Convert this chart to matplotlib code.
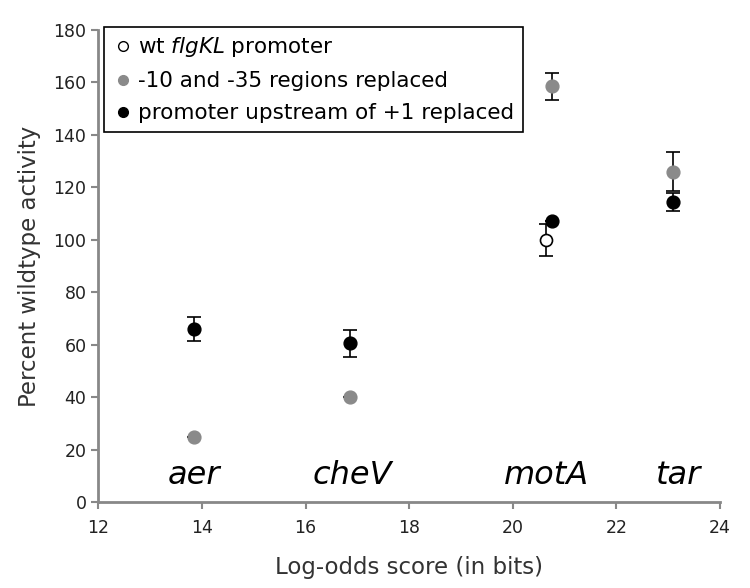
import matplotlib.pyplot as plt
from matplotlib.lines import Line2D

# Data
wt_x = [20.65]
wt_y = [100]
wt_err = [6]

core_x = [13.85, 16.85, 20.75, 23.1]
core_y = [25, 40, 158.5, 126]
core_err = [0, 0, 5, 7.5]

up_x = [13.85, 16.85, 20.75, 23.1]
up_y = [66, 60.5, 107, 114.5]
up_err = [4.5, 5, 0, 3.5]

gene_names = ["aer", "cheV", "motA", "tar"]
gene_x = [13.85, 16.9, 20.65, 23.2]
gene_y = [10, 10, 10, 10]

gray = "#8a8a8a"

fig = plt.figure(figsize=(7.5, 5.88), dpi=100)
ax = fig.add_axes([0.131, 0.146, 0.829, 0.803])

ebkw = dict(fmt="none", ecolor="black", elinewidth=1.2, capsize=5, capthick=1.2, zorder=2)
ax.errorbar(wt_x, wt_y, yerr=wt_err, **ebkw)
ax.errorbar(core_x, core_y, yerr=core_err, **ebkw)
ax.errorbar(up_x, up_y, yerr=up_err, **ebkw)

ax.scatter(wt_x, wt_y, s=75, facecolor="white", edgecolor="black", linewidth=1.2, zorder=3)
ax.scatter(core_x, core_y, s=85, color=gray, zorder=3)
ax.scatter(up_x, up_y, s=85, color="black", zorder=4)

for name, gx, gy in zip(gene_names, gene_x, gene_y):
    ax.text(gx, gy, name, style="italic", fontsize=23, ha="center", va="center")

ax.set_xlim(12, 24)
ax.set_ylim(0, 180)
ax.set_xticks(range(12, 25, 2))
ax.set_yticks(range(0, 181, 20))
ax.tick_params(labelsize=12.5, direction="out", length=5, width=1.5, color="#888888",
               labelcolor="#222222")
ax.tick_params(axis="x", pad=7)
for s in ["top", "right"]:
    ax.spines[s].set_visible(False)
for s in ["left", "bottom"]:
    ax.spines[s].set_color("#888888")
    ax.spines[s].set_linewidth(2)

ax.set_xlabel("Log-odds score (in bits)", fontsize=16.5, color="#333333", labelpad=14)
ax.set_ylabel("Percent wildtype activity", fontsize=16.5, color="#333333", labelpad=9)

handles = [
    Line2D([], [], ls="", marker="o", ms=7, mfc="white", mec="black"),
    Line2D([], [], ls="", marker="o", ms=7, mfc=gray, mec=gray),
    Line2D([], [], ls="", marker="o", ms=7, mfc="black", mec="black"),
]
labels = ["wt $\\it{flgKL}$ promoter", "-10 and -35 regions replaced",
          "promoter upstream of +1 replaced"]
leg = ax.legend(handles, labels, loc="upper left", bbox_to_anchor=(-0.005, 1.025),
                fontsize=15.5, handletextpad=0.2, handlelength=1.0,
                borderpad=0.4, labelspacing=0.55, borderaxespad=0.4,
                fancybox=False, framealpha=1)
leg.get_frame().set_edgecolor("black")
leg.get_frame().set_linewidth(1.2)

fig.savefig("out.png", dpi=100)
